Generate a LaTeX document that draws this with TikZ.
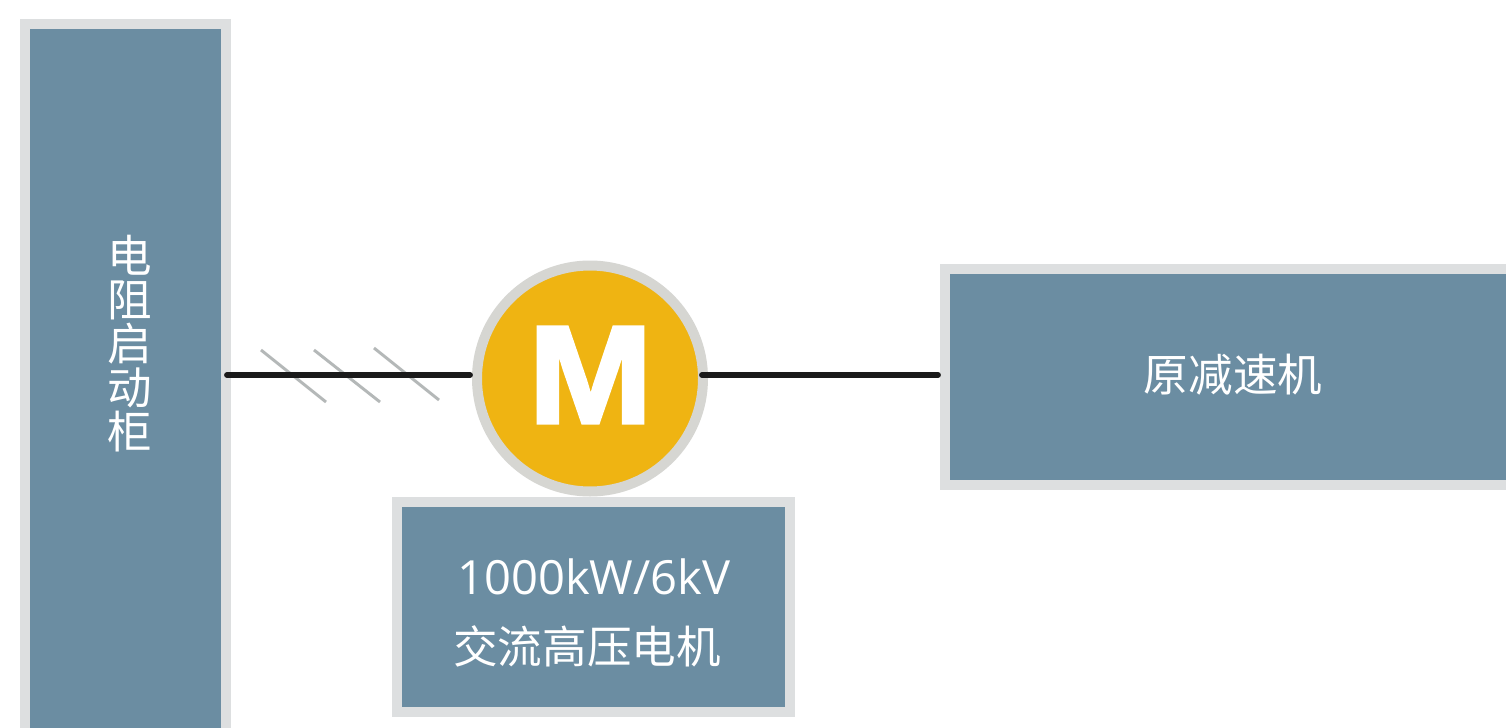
\documentclass[tikz,border=0pt]{standalone}
\usepackage{fontspec}
\setmainfont{Open Sans}
\newfontfamily\cjk{Noto Sans CJK SC}
\newfontfamily\heavy[FakeBold=2.5,FakeStretch=1.07]{Liberation Sans Bold}
\definecolor{boxfill}{HTML}{6B8DA2}
\definecolor{boxedge}{HTML}{DDDFE0}
\definecolor{motorfill}{HTML}{EFB412}
\definecolor{motoredge}{HTML}{D6D6D2}
\definecolor{linkblack}{HTML}{1A1A1A}
\definecolor{slash}{HTML}{B4B8B8}
\tikzset{
  px/.style={x=0.75pt,y=-0.75pt},
  panel/.style={draw=boxedge,fill=boxfill,line width=7.5pt},
  link/.style={draw=linkblack,line width=4.4pt,line cap=round},
  tick/.style={draw=slash,line width=2.2pt},
  lbl/.style={text=white,font=\cjk\fontsize{33.3bp}{36bp}\selectfont,inner sep=0pt},
}
\begin{document}
\begin{tikzpicture}[px]
\useasboundingbox (0,0) rectangle (1506,728);
\fill[white] (0,0) rectangle (1506,728);
\path[panel] (24.5,24) rectangle (225.5,740);
\path[panel] (945,269) rectangle (1520,484.5);
\path[panel] (397,502) rectangle (790,711.5);
\coordinate (cab) at (227,375);
\coordinate (red) at (938,375);
\draw[tick] (261,350) -- (326,402);
\draw[tick] (314,350) -- (380,402);
\draw[tick] (374,348) -- (439,400);
\node[circle,draw=motoredge,fill=motorfill,line width=7.5pt,minimum size=169.5pt,inner sep=0pt] (motor) at (590,378.5) {};
\draw[link] (cab) -- ([xshift=-1.5pt]motor.west |- cab);
\draw[link] ([xshift=-4.5pt]motor.east |- red) -- (red);
\node[text=white,font=\heavy\fontsize{104bp}{104bp}\selectfont,inner sep=0pt] (m) at (590.5,375) {M};
\node[lbl,align=center] (t1) at (130,343.5) {电\\[-3pt]阻\\[-3pt]启\\[-3pt]动\\[-3pt]柜};
\node[lbl] (t2) at (1233,375) {原减速机};
\node[text=white,inner sep=0pt,font=\fontsize{35.2bp}{36bp}\selectfont] (t3) at (594,577) {1000kW/6kV};
\node[lbl] (t4) at (587,646) {交流高压电机};
\end{tikzpicture}
\end{document}
